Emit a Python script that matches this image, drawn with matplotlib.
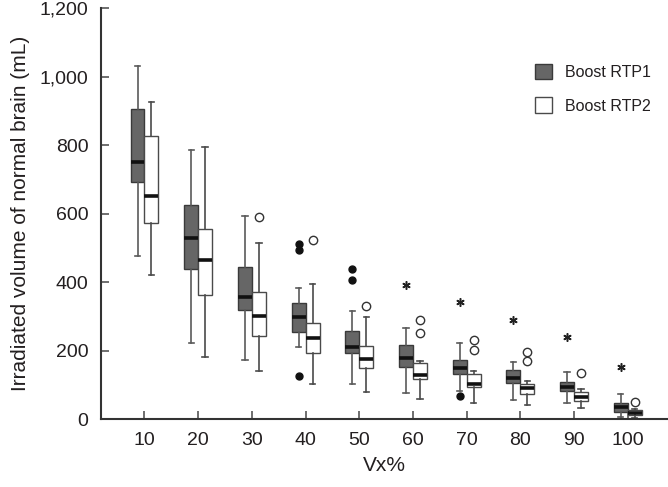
import numpy as np
import matplotlib.pyplot as plt
from matplotlib.patches import Patch

# Vx% categories
vx = [10, 20, 30, 40, 50, 60, 70, 80, 90, 100]

# Boost RTP1 box statistics (mL)
rtp1_whislo = [478, 223, 173, 212, 102, 76, 83, 56, 47, 7]
rtp1_q1 = [694, 439, 318, 256, 195, 154, 132, 106, 83, 21]
rtp1_med = [752, 530, 358, 300, 212, 180, 149, 122, 95, 37]
rtp1_q3 = [906, 627, 446, 341, 258, 216, 172, 145, 110, 48]
rtp1_whishi = [1032, 785, 594, 382, 315, 268, 222, 168, 137, 75]

# Boost RTP2 box statistics (mL)
rtp2_whislo = [421, 182, 141, 102, 81, 60, 49, 42, 33, 3]
rtp2_q1 = [573, 363, 244, 193, 149, 117, 94, 74, 54, 12]
rtp2_med = [653, 464, 302, 236, 175, 130, 104, 90, 66, 19]
rtp2_q3 = [826, 557, 371, 282, 214, 164, 132, 103, 79, 26]
rtp2_whishi = [925, 795, 516, 395, 300, 171, 141, 112, 89, 30]

# outliers (circles) and extremes (asterisks)
rtp1_outliers = [[], [], [], [513, 495, 125], [439, 407], [], [67], [], [], []]
rtp1_extremes = [[], [], [], [], [], [393], [342], [290], [240], [154]]
rtp2_outliers = [[], [], [592], [524], [332], [291, 252], [231, 203], [197, 169], [134], [51]]

plt.rcParams['font.family'] = ['Liberation Sans', 'DejaVu Sans']
txt = '#231f20'

fig = plt.figure(figsize=(6.68, 4.87), dpi=100)
ax = fig.add_axes([0.1512, 0.139, 0.8488, 0.844])

pos = np.arange(len(vx))
w = 0.26


def make_stats(lo, q1, med, q3, hi):
    return [dict(whislo=a, q1=b, med=c, q3=d, whishi=e, fliers=[])
            for a, b, c, d, e in zip(lo, q1, med, q3, hi)]


s1 = make_stats(rtp1_whislo, rtp1_q1, rtp1_med, rtp1_q3, rtp1_whishi)
s2 = make_stats(rtp2_whislo, rtp2_q1, rtp2_med, rtp2_q3, rtp2_whishi)

ax.bxp(s1, positions=pos - w / 2, widths=w, showfliers=False, patch_artist=True,
       capwidths=0.1,
       boxprops=dict(facecolor='#666666', edgecolor='#3a3a3a', linewidth=1.0),
       medianprops=dict(color='#111111', linewidth=2.6),
       whiskerprops=dict(color='#5a5a5a', linewidth=1.2),
       capprops=dict(color='#5a5a5a', linewidth=1.2))
ax.bxp(s2, positions=pos + w / 2, widths=w, showfliers=False, patch_artist=True,
       capwidths=0.1,
       boxprops=dict(facecolor='white', edgecolor='#4a4a4a', linewidth=1.0),
       medianprops=dict(color='#111111', linewidth=2.6),
       whiskerprops=dict(color='#4a4a4a', linewidth=1.2),
       capprops=dict(color='#4a4a4a', linewidth=1.2))

for i in range(len(vx)):
    if rtp1_outliers[i]:
        ax.plot([pos[i] - w / 2] * len(rtp1_outliers[i]), rtp1_outliers[i], 'o',
                color='#111111', markersize=5, linestyle='none')
    if rtp1_extremes[i]:
        ax.plot([pos[i] - w / 2] * len(rtp1_extremes[i]), rtp1_extremes[i],
                marker=(6, 2, 0), color='#222222', markersize=6, markeredgewidth=1.1,
                linestyle='none')
    if rtp2_outliers[i]:
        ax.plot([pos[i] + w / 2] * len(rtp2_outliers[i]), rtp2_outliers[i], 'o',
                markerfacecolor='white', markeredgecolor='#333333', markeredgewidth=1.0,
                markersize=6, linestyle='none')

ax.set_xlim(-0.81, 9.75)
ax.set_ylim(0, 1200)
ax.set_xticks(pos)
ax.set_xticklabels([str(v) for v in vx])
ax.set_yticks(np.arange(0, 1201, 200))
ax.set_yticklabels(['0', '200', '400', '600', '800', '1,000', '1,200'])
ax.tick_params(direction='in', length=6, width=1.2, color='#555555',
               labelsize=14, labelcolor=txt, pad=9)
for s in ['top', 'right']:
    ax.spines[s].set_visible(False)
for s in ['left', 'bottom']:
    ax.spines[s].set_color('#333333')
    ax.spines[s].set_linewidth(1.5)

ax.set_xlabel('Vx%', fontsize=15, color=txt, labelpad=5)
ax.set_ylabel('Irradiated volume of normal brain (mL)', fontsize=15, color=txt, labelpad=7)

handles = [Patch(facecolor='#666666', edgecolor='#3a3a3a', label='Boost RTP1'),
           Patch(facecolor='white', edgecolor='#4a4a4a', label='Boost RTP2')]
leg = ax.legend(handles=handles, loc='upper right', bbox_to_anchor=(0.995, 0.9),
                frameon=False, fontsize=11.5, handlelength=1.1, handleheight=1.1,
                labelspacing=1.1, handletextpad=0.8)
for t in leg.get_texts():
    t.set_color(txt)

fig.savefig('out.png', dpi=100)
